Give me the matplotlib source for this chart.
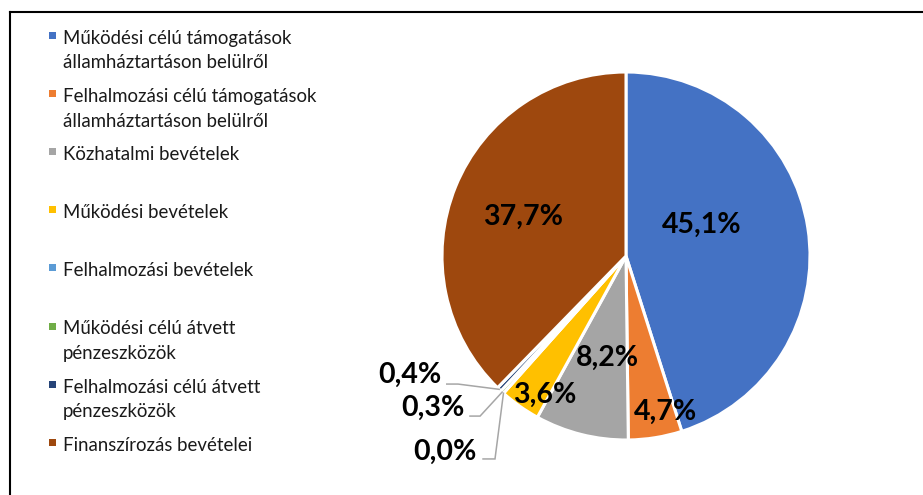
import matplotlib
matplotlib.use('Agg')
import matplotlib.pyplot as plt
import numpy as np
from matplotlib.lines import Line2D
from matplotlib.patches import Rectangle

# ---------------- data ----------------
categories = [
    "Működési célú támogatások\nállamháztartáson belülről",
    "Felhalmozási célú támogatások\nállamháztartáson belülről",
    "Közhatalmi bevételek",
    "Működési bevételek",
    "Felhalmozási bevételek",
    "Működési célú átvett\npénzeszközök",
    "Felhalmozási célú átvett\npénzeszközök",
    "Finanszírozás bevételei",
]
values = [45.1, 4.7, 8.2, 3.6, 0.0, 0.3, 0.4, 37.7]
value_labels = ["45,1%", "4,7%", "8,2%", "3,6%", "0,0%", "0,3%", "0,4%", "37,7%"]
colors = ["#4472C4", "#ED7D31", "#A5A5A5", "#FFC000",
          "#5B9BD5", "#70AD47", "#264478", "#9E480E"]

# ---------------- layout ----------------
W, H = 923, 495
FONT = "Lato"
plt.rcParams['font.family'] = [FONT, 'DejaVu Sans']

fig = plt.figure(figsize=(W / 100, H / 100), dpi=100)

cx, cy, R = 626, 256, 184  # pie centre / radius in pixels
ax = fig.add_axes([(cx - R) / W, (H - cy - R) / H, 2 * R / W, 2 * R / H])
wedges, _ = ax.pie(values, colors=colors, startangle=90, counterclock=False,
                   radius=1, wedgeprops=dict(edgecolor='white', linewidth=2.2))
ax.set_xlim(-1, 1)
ax.set_ylim(-1, 1)
ax.axis('off')

# label placement (data units, radius = 1)
inside_pos = {0: (0.413, 0.168), 1: (0.215, -0.846), 2: (-0.100, -0.556),
              3: (-0.440, -0.755), 7: (-0.558, 0.214)}
outside_text = {6: (-1.174, -0.647), 5: (-1.049, -0.826), 4: (-0.984, -1.065)}
outside_line = {6: [(-0.974, -0.696), (-0.913, -0.696)],
                5: [(-0.848, -0.870), (-0.793, -0.870)],
                4: [(-0.777, -1.103), (-0.712, -1.103)]}
label_fs = 20.5

for i, (x, y) in inside_pos.items():
    ax.text(x, y, value_labels[i], ha='center', va='center',
            fontsize=label_fs, fontweight='bold', color='black')

for i, (x, y) in outside_text.items():
    ax.text(x, y, value_labels[i], ha='center', va='center',
            fontsize=label_fs, fontweight='bold', color='black', clip_on=False)
    w = wedges[i]
    th = np.deg2rad((w.theta1 + w.theta2) / 2)
    pts = outside_line[i] + [(np.cos(th), np.sin(th))]
    xs, ys = zip(*pts)
    ax.plot(xs, ys, color='#A6A6A6', lw=1.1, clip_on=False,
            solid_joinstyle='miter')

# ---------------- legend (manual) ----------------
leg_y0 = 44       # baseline of first line of first entry, pixels from top
leg_step = 58.1
line_gap = 24.5
for i, (lab, col) in enumerate(zip(categories, colors)):
    yb = leg_y0 + i * leg_step
    fig.patches.append(Rectangle((49 / W, (H - yb + 5) / H), 7 / W, 7 / H,
                                 transform=fig.transFigure, facecolor=col,
                                 edgecolor='none'))
    for j, line in enumerate(lab.split("\n")):
        fig.text(63 / W, (H - yb - j * line_gap) / H, line, ha='left',
                 va='baseline', fontsize=13.4, color='#1a1a1a')

# ---------------- frame lines ----------------
fig.add_artist(Line2D([10 / W, 1.0], [(H - 11.5) / H, (H - 11.5) / H],
                      transform=fig.transFigure, color='black', lw=1.5))
fig.add_artist(Line2D([10 / W, 10 / W], [0, (H - 11.5) / H],
                      transform=fig.transFigure, color='black', lw=1.5))

fig.savefig('out.png', dpi=100)
